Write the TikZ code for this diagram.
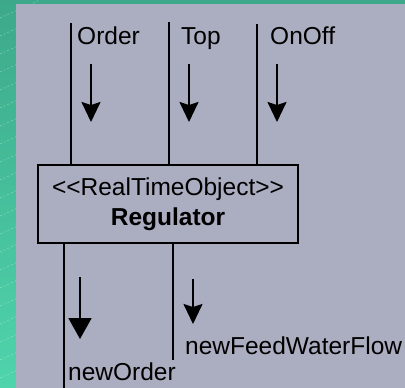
\documentclass[tikz,border=0pt]{standalone}
\usepackage{fontspec}
\setmainfont{Liberation Sans}
\usetikzlibrary{positioning}
\usetikzlibrary{arrows.meta}

\definecolor{panelgray}{HTML}{ABADC0}
\definecolor{tealtop}{HTML}{3DA98A}
\definecolor{tealbot}{HTML}{4FD4AC}

\tikzset{
  wire/.style={line width=1.8pt},
  msg/.style={line width=1.8pt, -{Stealth[length=20pt,width=19pt,inset=3pt]}},
  bigmsg/.style={line width=1.8pt, -{Triangle[length=21pt,width=23pt]}},
  portlabel/.style={inner sep=0pt, anchor=base west, font=\fontsize{24.5}{29}\selectfont},
}

\begin{document}
\begin{tikzpicture}[x=1pt,y=-1pt]
        \useasboundingbox (0,0) rectangle (405,388);
        % backdrop
        \fill[top color=tealtop, bottom color=tealbot] (0,0) rectangle (405,388);
        \begin{scope}
            \clip (0,0) rectangle (405,388);
            \foreach \k in {0,18,...,430}
                \draw[white, opacity=0.3, dash pattern=on 2pt off 2pt, line width=0.6pt] (0,\k) -- ++(60,-27);
        \end{scope}
        \fill[panelgray] (16,4) rectangle (405,388);

        \node[draw, line width=1.8pt, minimum width=260pt, minimum height=78pt, inner sep=0pt,
              align=center, font=\fontsize{24.5}{30}\selectfont, name=reg] at (168,204)
              {<{}<RealTimeObject>{}>\\\textbf{Regulator}};

        % incoming ports
        \coordinate (inOrder) at (71,23);
        \coordinate (inTop) at (169,22);
        \coordinate (inOnOff) at (257,24);
        \draw[wire] (inOrder) -- (inOrder |- reg.north);
        \draw[wire] (inTop) -- (inTop |- reg.north);
        \draw[wire] (inOnOff) -- (inOnOff |- reg.north);
        \node[portlabel, name=lblOrder] at (77,44) {Order};
        \node[portlabel, name=lblTop] at (181,44) {Top};
        \node[portlabel, name=lblOnOff] at (270,44) {OnOff};

        \foreach \x/\n in {91/Order, 189/Top, 277/OnOff} {
            \coordinate (from\n) at (\x,64);
            \coordinate (to\n) at (\x,122);
            \draw[msg] (from\n) -- (to\n);
        }

        % outgoing ports
        \coordinate (outOrder) at (64,388);
        \coordinate (outFeed) at (173,360);
        \draw[wire] (reg.south -| outOrder) -- (outOrder);
        \draw[wire] (reg.south -| outFeed) -- (outFeed);
        \node[portlabel, name=lblFeed] at (185,354) {newFeedWaterFlow};
        \node[portlabel, name=lblNewOrder] at (68,380) {newOrder};

        \coordinate (fromNewOrder) at (80,277);
        \coordinate (toNewOrder) at (80,339);
        \draw[bigmsg] (fromNewOrder) -- (toNewOrder);
        \coordinate (fromFeed) at (193,279);
        \coordinate (toFeed) at (193,324);
        \draw[msg] (fromFeed) -- (toFeed);
\end{tikzpicture}
\end{document}
